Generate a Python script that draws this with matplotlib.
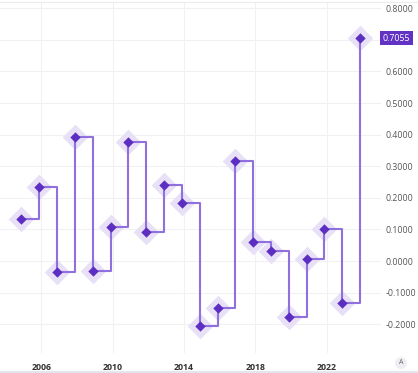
import numpy as np
import matplotlib.pyplot as plt

plt.rcParams['font.family'] = ['Open Sans', 'DejaVu Sans']

years = np.arange(2005, 2025)
values = [0.133, 0.234, -0.035, 0.391, -0.032, 0.108, 0.377, 0.093, 0.241, 0.183,
          -0.204, -0.148, 0.315, 0.060, 0.033, -0.176, 0.008, 0.100, -0.133, 0.7055]
xticks = [2006, 2010, 2014, 2018, 2022]
yticks = [-0.2, -0.1, 0.0, 0.1, 0.2, 0.3, 0.4, 0.5, 0.6, 0.7, 0.8]
last_label = '0.7055'

line_col = '#9070dc'
dot_col = '#5d2ec2'
halo_col = '#e7e0f6'

fig = plt.figure(figsize=(4.18, 3.73), dpi=100)
ax = fig.add_axes([0, 1 - 353 / 373, 381 / 418, 351 / 373])

x = years - 0.12  # points sit a little before the year gridline

ax.plot(x, values, drawstyle='steps-post', color=line_col, lw=1.5, zorder=2)
ax.scatter(x, values, marker='D', s=170, color=halo_col, lw=0, zorder=1)
ax.scatter(x, values, marker='D', s=28, color=dot_col, lw=0, zorder=3)

ax.set_xlim(2003.68, 2025.05)
ax.set_ylim(-0.291, 0.8196)

ax.set_xticks(xticks)
ax.set_xticklabels([str(t) for t in xticks], fontsize=6.3, color='#333333', fontweight='bold')
ax.set_yticks(yticks)
ax.set_yticklabels(['%.4f' % t if t != 0.7 else '' for t in yticks], fontsize=6.3, color='#555555')
ax.yaxis.tick_right()
ax.tick_params(axis='y', length=0, pad=3.5)
ax.tick_params(axis='x', length=0, pad=7)
ax.grid(True, color='#f1f1f4', lw=0.8)
ax.set_axisbelow(True)
for s in ax.spines.values():
    s.set_visible(False)

# value tag for the last point
ax.text(1.0 + 2 / 381, values[-1], last_label, transform=ax.get_yaxis_transform(),
        ha='left', va='center', fontsize=6.3, color='white',
        bbox=dict(boxstyle='square,pad=0.3', fc='#6232c4', ec='none'))

# thin borders top and bottom
fig.add_artist(plt.Line2D([0, 1], [1 - 2 / 373, 1 - 2 / 373], color='#ececf0', lw=0.8))
fig.add_artist(plt.Line2D([0, 1], [1 / 373, 1 / 373], color='#e3e6ec', lw=1.5))

fig.text(401 / 418, 1 - 363 / 373, 'A', ha='center', va='center', fontsize=5, color='#666666',
         bbox=dict(boxstyle='circle,pad=0.35', fc='#eceef2', ec='none'))

fig.savefig('out.png', dpi=100)
